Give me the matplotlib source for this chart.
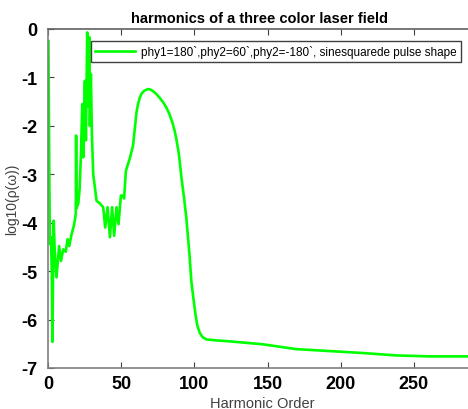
import matplotlib
matplotlib.use("Agg")
import matplotlib.pyplot as plt

# Harmonic spectrum (harmonic order vs log10 of the spectral density)
harmonic = [0.3, 0.9, 1.3, 2.0, 2.6, 3.0, 3.6, 3.9, 4.6, 5.8, 7.6, 8.9, 10.4, 12.1,
            13.4, 14.5, 16.1, 17.7, 18.6, 19.0, 19.2, 19.5, 20.7, 21.6, 22.5, 23.4,
            24.1, 25.2, 25.9, 26.8, 27.5, 28.2, 28.6, 29.3, 30.0, 30.9, 33.2, 35.4,
            37.7, 39.1, 40.7, 42.3, 43.8, 45.2, 46.8, 48.2, 49.8, 51.3, 52.0, 53.2,
            55.9, 58.1, 59.5, 60.5, 61.5, 62.7, 64.0, 66.0, 68.4, 70.0, 72.0, 74.0,
            76.0, 78.6, 81.0, 83.0, 85.0, 86.5, 87.7, 89.5, 91.3, 93.0, 94.5, 96.5,
            98.0, 99.5, 100.9, 102.0, 103.6, 105.5, 108.2, 115.0, 124.1, 146.6,
            169.5, 192.2, 214.7, 237.7, 260.4, 289.0]
log_rho = [-0.25, -3.0, -4.44, -4.3, -5.0, -6.46, -4.6, -3.96, -4.6, -5.13, -4.48,
           -4.79, -4.55, -4.6, -4.34, -4.48, -4.24, -4.06, -3.9, -3.8, -2.2, -3.7,
           -3.6, -3.3, -2.6, -1.55, -2.65, -1.07, -2.3, -0.07, -1.6, -0.17, -2.0,
           -0.93, -2.17, -3.0, -3.55, -3.6, -3.68, -4.1, -3.68, -4.3, -3.68, -4.27,
           -3.68, -4.03, -3.44, -3.44, -3.5, -2.93, -2.67, -2.41, -2.0, -1.72,
           -1.55, -1.42, -1.33, -1.27, -1.24, -1.25, -1.29, -1.34, -1.41, -1.51,
           -1.63, -1.76, -1.93, -2.1, -2.27, -2.6, -3.1, -3.5, -3.9, -4.6, -5.23,
           -5.6, -5.92, -6.12, -6.27, -6.36, -6.41, -6.43, -6.45, -6.51, -6.61,
           -6.65, -6.69, -6.74, -6.76, -6.76]

x_ticks = [0, 50, 100, 150, 200, 250]
y_ticks = [0, -1, -2, -3, -4, -5, -6, -7]

series_label = "phy1=180`,phy2=60`,phy2=-180`, sinesquarede pulse shape"
title_text = "harmonics of a three color laser field"

plt.rcParams['font.family'] = ['Liberation Sans', 'DejaVu Sans']

fig = plt.figure(figsize=(4.68, 4.10), dpi=100)
W, H = 468.0, 410.0
left_px, right_px, top_px, bottom_px = 48, 471, 30, 369
ax_w = right_px - left_px
ax_h = bottom_px - top_px
ax = fig.add_axes([left_px / W, 1 - bottom_px / H, ax_w / W, ax_h / H])

ax.plot(harmonic, log_rho, color=(0, 1, 0), lw=1.9, label=series_label)

ax.set_xlim(0, 289)
ax.set_ylim(-7, 0)
ax.set_xticks(x_ticks)
ax.set_yticks(y_ticks)
ax.set_yticklabels([str(v) for v in y_ticks])

for s in ax.spines.values():
    s.set_color('#808080')
    s.set_linewidth(1.2)
ax.spines['top'].set_color('#606060')

ax.tick_params(direction='in', length=4, width=0.8, color='#404040',
               top=True, right=False, labelsize=13)
ax.tick_params(axis='x', pad=5)
ax.tick_params(axis='y', pad=8)
for lab in ax.get_xticklabels() + ax.get_yticklabels():
    lab.set_fontweight('bold')

ax.set_title(title_text, fontsize=10.5, fontweight='bold', pad=5)
ax.set_xlabel("Harmonic Order", fontsize=10.5, color='#404040')
ax.set_ylabel("log10(ρ(ω))", fontsize=10, color='#404040')
ax.xaxis.set_label_coords(0.507, -(397 - bottom_px) / ax_h)
ax.yaxis.set_label_coords(-(left_px - 19) / ax_w, 0.5)

leg = ax.legend(loc='upper left',
                bbox_to_anchor=((91 - left_px) / ax_w, (bottom_px - 42) / ax_h),
                borderaxespad=0, fancybox=False, framealpha=1, edgecolor='#404040',
                fontsize=8.5, handlelength=3.4, borderpad=0.35, handletextpad=0.5)
leg.get_frame().set_linewidth(1.0)

fig.savefig("out.png", dpi=100)
